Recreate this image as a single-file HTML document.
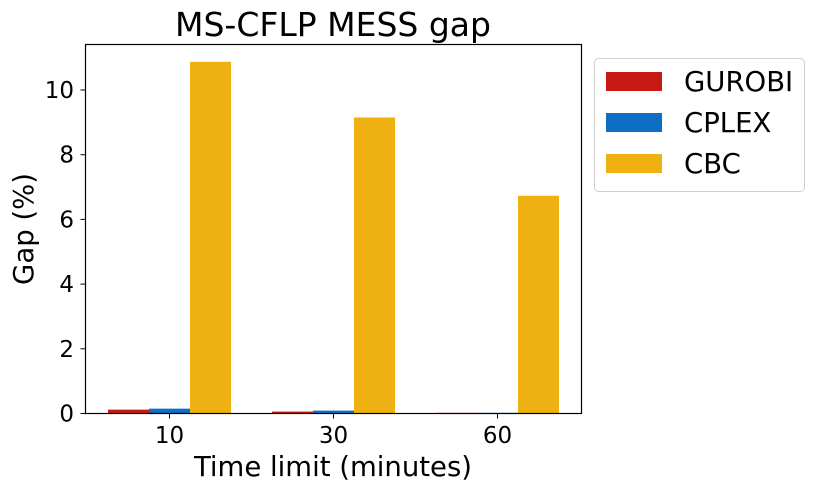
<!DOCTYPE html>
<html><head><meta charset="utf-8"><style>
body{margin:0;background:#fff;}
svg text{font-family:"DejaVu Sans","Liberation Sans",sans-serif;fill:#000;}
</style></head><body>
<svg id="chart" width="814" height="491" viewBox="0 0 814 491" xmlns="http://www.w3.org/2000/svg">
<text x="333" y="36" font-size="33" text-anchor="middle">MS-CFLP MESS gap</text>
<g id="bars"></g>
<g id="axes"></g>
<rect x="85.5" y="44.5" width="496" height="369" fill="none" stroke="#000" stroke-width="1.2"/>
<text x="333" y="476" font-size="27.5" text-anchor="middle">Time limit (minutes)</text>
<text transform="translate(33,229) rotate(-90)" font-size="27.5" text-anchor="middle">Gap (%)</text>
<g>
<rect x="594.5" y="58.5" width="210" height="133" rx="4" fill="#fff" stroke="#d0d0d0"/>
<g id="legend"></g>
</g>
</svg>
<script>
const categories = ["10", "30", "60"];
const seriesNames = ["GUROBI", "CPLEX", "CBC"];
const gurobi = [0.12, 0.06, 0.02];
const cplex = [0.15, 0.09, 0.02];
const cbc = [10.87, 9.15, 6.73];
const yTicks = [0, 2, 4, 6, 8, 10];
const colors = ["#c71a14", "#0d6ec4", "#eeb111"];
const series = [gurobi, cplex, cbc];
const NS = "http://www.w3.org/2000/svg";
const y0 = 413.5, pxPerUnit = 32.35;
function yScale(v){ return y0 - v * pxPerUnit; }
function xCenter(i){ return 169.5 + i * 164; }
const bw = 41;
const barsG = document.getElementById('bars');
series.forEach((s, si) => {
  s.forEach((v, i) => {
    const r = document.createElementNS(NS, 'rect');
    const x = xCenter(i) - 1.5 * bw + si * bw;
    r.setAttribute('x', x);
    r.setAttribute('y', yScale(v));
    r.setAttribute('width', bw);
    r.setAttribute('height', y0 - yScale(v));
    r.setAttribute('fill', colors[si]);
    
    
    barsG.appendChild(r);
  });
});
const axG = document.getElementById('axes');
yTicks.forEach(t => {
  const y = yScale(t);
  const l = document.createElementNS(NS, 'line');
  l.setAttribute('x1', 80.5); l.setAttribute('x2', 85.5);
  l.setAttribute('y1', y); l.setAttribute('y2', y);
  l.setAttribute('stroke', '#000');
  
  
  axG.appendChild(l);
  const tx = document.createElementNS(NS, 'text');
  tx.setAttribute('x', 74); tx.setAttribute('y', y + 8);
  tx.setAttribute('font-size', '23'); tx.setAttribute('text-anchor', 'end');
  tx.textContent = t;
  
  
  axG.appendChild(tx);
});
categories.forEach((c, i) => {
  const x = xCenter(i);
  const l = document.createElementNS(NS, 'line');
  l.setAttribute('x1', x); l.setAttribute('x2', x);
  l.setAttribute('y1', 413.5); l.setAttribute('y2', 418.5);
  l.setAttribute('stroke', '#000');
  
  
  axG.appendChild(l);
  const tx = document.createElementNS(NS, 'text');
  tx.setAttribute('x', x); tx.setAttribute('y', 443);
  tx.setAttribute('font-size', '23'); tx.setAttribute('text-anchor', 'middle');
  tx.textContent = c;
  
  
  axG.appendChild(tx);
});
const lg = document.getElementById('legend');
seriesNames.forEach((n, i) => {
  const y = 72 + i * 41;
  const r = document.createElementNS(NS, 'rect');
  r.setAttribute('x', 606); r.setAttribute('y', y);
  r.setAttribute('width', 56); r.setAttribute('height', 19);
  r.setAttribute('fill', colors[i]);
  
  
  lg.appendChild(r);
  const t = document.createElementNS(NS, 'text');
  t.setAttribute('x', 684); t.setAttribute('y', y + 19);
  t.setAttribute('font-size', '27.5');
  t.textContent = n;
  
  
  lg.appendChild(t);
});
</script>
</body></html>
